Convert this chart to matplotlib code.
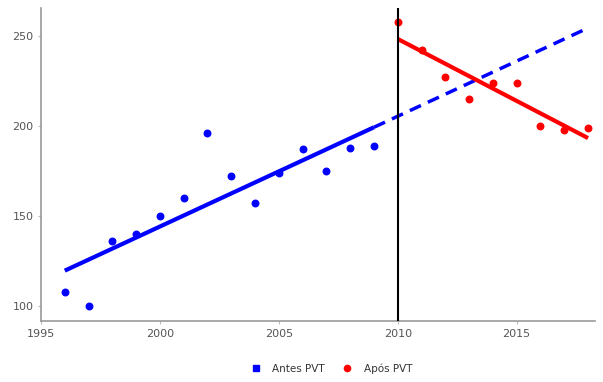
import numpy as np
import matplotlib.pyplot as plt

years_before = np.arange(1996, 2010)
values_before = [108, 100, 136, 140, 150, 160, 196, 172, 157, 174, 187, 175, 188, 189]
years_after = np.arange(2010, 2019)
values_after = [258, 242, 227, 215, 224, 224, 200, 198, 199]
cut_year = 2010

blue = '#0000ff'
red = '#ff0000'
grey = '#555555'

fig = plt.figure(figsize=(6.03, 3.82), dpi=100)
ax = fig.add_axes([0.068, 0.16, 0.919, 0.819])

# trend fits
b1, a1 = np.polyfit(years_before, values_before, 1)
b2, a2 = np.polyfit(years_after, values_after, 1)

xb = np.array([years_before[0], years_before[-1]])
ax.plot(xb, a1 + b1 * xb, color=blue, lw=3, solid_capstyle='butt')
xd = np.array([years_before[-1], years_after[-1]])
ax.plot(xd, a1 + b1 * xd, color=blue, lw=2.5, ls=(0, (3.5, 2.2)))
xa = np.array([years_after[0], years_after[-1]])
ax.plot(xa, a2 + b2 * xa, color=red, lw=3, solid_capstyle='butt')

ax.scatter(years_before, values_before, color=blue, s=22, marker='o',
           label='Antes PVT', zorder=3)
ax.scatter(years_after, values_after, color=red, s=22, marker='o',
           label='Após PVT', zorder=3)

ax.axvline(cut_year, color='black', lw=1.5, zorder=4)

ax.set_xlim(1995, 2018.3)
ax.set_ylim(91.7, 265.5)
ax.set_xticks([1995, 2000, 2005, 2010, 2015])
ax.set_yticks([100, 150, 200, 250])

for side in ['top', 'right']:
    ax.spines[side].set_visible(False)
for side in ['left', 'bottom']:
    ax.spines[side].set_color('#999999')
    ax.spines[side].set_linewidth(1.2)
ax.tick_params(colors=grey, labelsize=8, length=2, color='#bbbbbb')

handles = [
    plt.Line2D([], [], color=blue, marker='s', ls='', markersize=4, label='Antes PVT'),
    plt.Line2D([], [], color=red, marker='o', ls='', markersize=4.5, label='Após PVT'),
]
fig.legend(handles=handles, loc='center', bbox_to_anchor=(0.545, 0.035), ncol=2,
           frameon=False, fontsize=7.5, handletextpad=0.6, columnspacing=1.1,
           labelcolor='#333333')

fig.savefig('out.png', dpi=100)
